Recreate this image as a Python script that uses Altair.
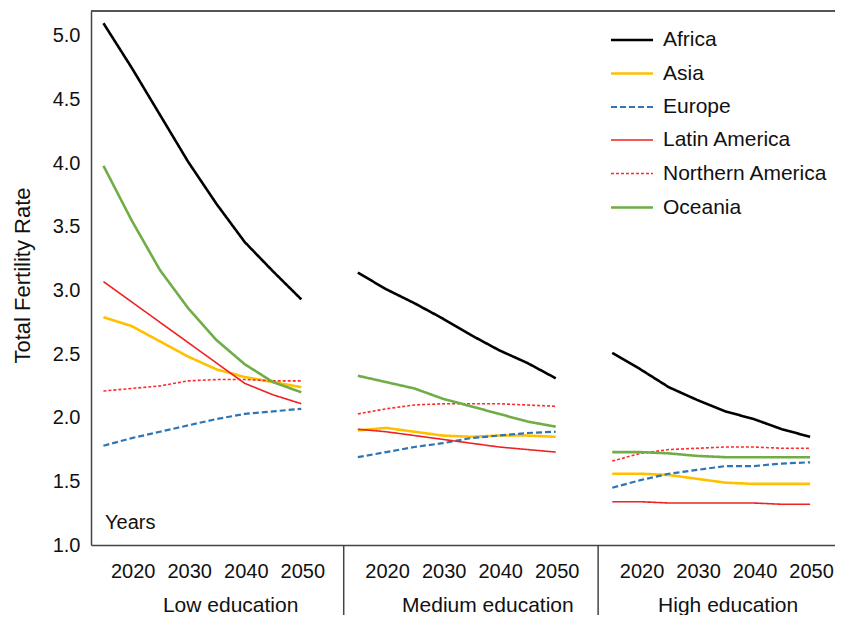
import altair as alt
import pandas as pd

years = [2015, 2020, 2025, 2030, 2035, 2040, 2045, 2050]
regions = ["Africa", "Asia", "Europe", "Latin America", "Northern America", "Oceania"]
panels = ["Low education", "Medium education", "High education"]
tick_years = [2020, 2030, 2040, 2050]
title_years = [2037.5, 2038, 2035.5]

low = {
    "Africa":           [5.10, 4.75, 4.38, 4.01, 3.68, 3.38, 3.15, 2.93],
    "Asia":             [2.79, 2.72, 2.60, 2.48, 2.38, 2.32, 2.28, 2.24],
    "Europe":           [1.78, 1.84, 1.89, 1.94, 1.99, 2.03, 2.05, 2.07],
    "Latin America":    [3.07, 2.91, 2.75, 2.59, 2.43, 2.27, 2.18, 2.11],
    "Northern America": [2.21, 2.23, 2.25, 2.29, 2.30, 2.30, 2.29, 2.29],
    "Oceania":          [3.98, 3.55, 3.16, 2.86, 2.61, 2.42, 2.28, 2.20],
}
medium = {
    "Africa":           [3.14, 3.01, 2.90, 2.78, 2.65, 2.53, 2.43, 2.31],
    "Asia":             [1.90, 1.92, 1.89, 1.86, 1.85, 1.86, 1.86, 1.85],
    "Europe":           [1.69, 1.73, 1.77, 1.80, 1.84, 1.86, 1.88, 1.89],
    "Latin America":    [1.91, 1.89, 1.86, 1.83, 1.80, 1.77, 1.75, 1.73],
    "Northern America": [2.03, 2.07, 2.10, 2.11, 2.11, 2.11, 2.10, 2.09],
    "Oceania":          [2.33, 2.28, 2.23, 2.15, 2.09, 2.03, 1.97, 1.93],
}
high = {
    "Africa":           [2.51, 2.38, 2.24, 2.14, 2.05, 1.99, 1.91, 1.85],
    "Asia":             [1.56, 1.56, 1.55, 1.52, 1.49, 1.48, 1.48, 1.48],
    "Europe":           [1.45, 1.51, 1.56, 1.59, 1.62, 1.62, 1.64, 1.65],
    "Latin America":    [1.34, 1.34, 1.33, 1.33, 1.33, 1.33, 1.32, 1.32],
    "Northern America": [1.66, 1.72, 1.75, 1.76, 1.77, 1.77, 1.76, 1.76],
    "Oceania":          [1.73, 1.73, 1.72, 1.70, 1.69, 1.69, 1.69, 1.69],
}

colors = ["#000000", "#FFC000", "#2E75B6", "#EE2222", "#FF2A2A", "#70AD47"]
dashes = [[1, 0], [1, 0], [6, 3], [1, 0], [3, 2], [1, 0]]
widths = [2.6, 2.6, 2.2, 1.6, 1.6, 2.6]

SPAN = 45      # years of axis per panel
LEAD = 2.2     # gap before first year in each panel
W, H = 744, 534

rows = []
for pi, (pname, pdata) in enumerate(zip(panels, [low, medium, high])):
    for r in regions:
        for yr, v in zip(years, pdata[r]):
            rows.append({"panel": pname, "pidx": pi, "region": r, "year": yr, "tfr": v})
df = pd.DataFrame(rows)
df["pos"] = df["pidx"] * SPAN + LEAD + (df["year"] - years[0])

tick_vals = [pi * SPAN + LEAD + (ty - years[0]) for pi in range(3) for ty in tick_years]

xscale = alt.Scale(domain=[0, 131.6], nice=False, zero=False)
yscale = alt.Scale(domain=[1.0, 5.196], nice=False, zero=False)

lines = alt.Chart(df).mark_line().encode(
    x=alt.X("pos:Q", scale=xscale,
            axis=alt.Axis(title=None, values=tick_vals, grid=False, ticks=False,
                          labelExpr=f"format(round((datum.value - {LEAD}) % {SPAN}) + {years[0]}, 'd')",
                          labelFontSize=20, labelPadding=16, labelOffset=1, labelOverlap=False,
                          labelFlush=False, domainColor="#444", domainWidth=1.5,
                          labelColor="#111")),
    y=alt.Y("tfr:Q", scale=yscale,
            axis=alt.Axis(title="Total Fertility Rate", values=[1.0, 1.5, 2.0, 2.5, 3.0, 3.5, 4.0, 4.5, 5.0],
                          format=".1f", grid=False, ticks=False, labelFontSize=20, labelPadding=11,
                          domainColor="#444", domainWidth=1.5, labelColor="#111",
                          titleFontSize=22, titleFontWeight="normal", titleColor="#111",
                          titleX=-69, titleY=264, titleAlign="center", titleBaseline="middle")),
    color=alt.Color("region:N", scale=alt.Scale(domain=regions, range=colors),
                    legend=alt.Legend(title=None, orient="none", legendX=519, legendY=17,
                                      symbolType="M-2,0H2", symbolSize=441, symbolStrokeWidth=2,
                                      labelFontSize=21, rowPadding=11.5, padding=0, labelLimit=300,
                                      symbolOffset=10, labelOffset=19, labelColor="#111")),
    strokeDash=alt.StrokeDash("region:N", scale=alt.Scale(domain=regions, range=dashes)),
    strokeWidth=alt.StrokeWidth("region:N", scale=alt.Scale(type="ordinal", domain=regions, range=widths),
                                legend=None),
    detail="panel:N",
)

sep_df = pd.DataFrame({"sep": [pi * SPAN - 0.3 for pi in range(1, 3)]})
seps = alt.Chart(sep_df).mark_rule(color="#444", strokeWidth=1.5).encode(
    x=alt.X("sep:Q", scale=xscale),
    y=alt.value(H), y2=alt.value(H + 90),
)

panel_df = pd.DataFrame({"panel": panels,
                         "lpos": [pi * SPAN + LEAD + (ty - years[0]) for pi, ty in enumerate(title_years)]})
ptext = alt.Chart(panel_df).mark_text(fontSize=21, baseline="middle", align="center", color="#111").encode(
    x=alt.X("lpos:Q", scale=xscale),
    y=alt.value(H + 61),
    text="panel:N",
)

top_df = pd.DataFrame({"a": [0]})
topline = alt.Chart(top_df).mark_rule(color="#555", strokeWidth=2).encode(
    x=alt.value(0), x2=alt.value(W), y=alt.value(0),
)

years_df = pd.DataFrame({"t": ["Years"]})
ytext = alt.Chart(years_df).mark_text(fontSize=20, align="left", baseline="middle", color="#111").encode(
    x=alt.value(14), y=alt.value(512), text="t:N",
)

chart = alt.layer(lines, seps, ptext, topline, ytext).properties(
    width=W, height=H,
    autosize=alt.AutoSizeParams(type="none"),
    padding={"left": 83, "top": 3, "right": 0, "bottom": 70},
).configure(font="Liberation Sans").configure_view(strokeWidth=0)

chart.save("out.html", embed_options={"renderer": "svg", "actions": False})
